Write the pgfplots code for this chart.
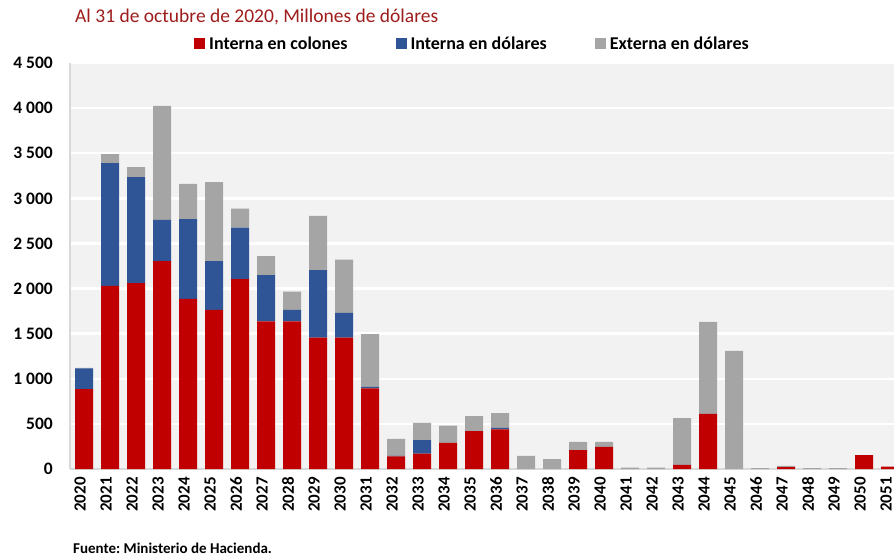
\documentclass[border=0pt]{standalone}
\usepackage{pgfplots}
\usepackage{pgfplotstable}
\pgfplotsset{compat=1.18}
\usepackage{fontspec}
\setmainfont{Carlito}
\frenchspacing
\definecolor{cred}{HTML}{C00000}
\definecolor{cblue}{HTML}{2F5597}
\definecolor{cgray}{HTML}{A5A5A5}
\definecolor{bgc}{HTML}{F2F2F2}
\definecolor{linec}{HTML}{D9D9D9}
\definecolor{titlec}{HTML}{9E1C1C}
\pgfplotstableread{
i r b g
0 885 230 5
1 2030 1360 100
2 2060 1175 110
3 2305 455 1265
4 1885 885 390
5 1765 540 875
6 2105 570 210
7 1635 515 210
8 1635 130 200
9 1455 750 600
10 1455 275 590
11 895 15 585
12 140 5 190
13 170 150 190
14 290 0 190
15 420 0 165
16 440 15 165
17 0 0 145
18 0 0 110
19 210 0 90
20 245 0 55
21 0 0 15
22 0 0 15
23 45 0 520
24 610 0 1020
25 0 0 1310
26 0 0 10
27 20 0 15
28 0 0 10
29 0 0 10
30 155 0 0
31 25 0 0
}\data
\begin{document}
\begin{tikzpicture}
\useasboundingbox (0,0) rectangle (894pt,558pt);
\begin{axis}[
 at={(70pt,89pt)}, anchor=south west,
 scale only axis, width=824pt, height=406pt,
 xmin=-0.54, xmax=31.15, ymin=0, ymax=4500,
 ybar stacked, bar width=18pt,
 axis background/.style={fill=bgc},
 axis lines*=left,
 axis line style={linec, line width=1.2pt, -},
 ymajorgrids, grid style={white, line width=2.5pt},
 major tick length=0pt,
 xtick={0,...,31},
 xticklabels={2020,2021,2022,2023,2024,2025,2026,2027,2028,2029,2030,2031,2032,2033,2034,2035,2036,2037,2038,2039,2040,2041,2042,2043,2044,2045,2046,2047,2048,2049,2050,2051},
 xticklabel style={rotate=90, anchor=east, inner sep=0pt, xshift=-8pt, yshift=4pt, font=\bfseries\fontsize{17}{17}\selectfont},
 ytick={0,500,...,4500},
 yticklabels={0,500,1 000,1 500,2 000,2 500,3 000,3 500,4 000,4 500},
 yticklabel style={anchor=east, inner sep=0pt, xshift=-17pt, font=\bfseries\fontsize{17.5}{17.5}\selectfont},
 legend columns=3,
 legend style={at={(0.1505,1.047)}, anchor=west, draw=none, fill=none, inner sep=0pt,
   nodes={inner sep=0pt, font=\bfseries\fontsize{18}{18}\selectfont},
   /tikz/every odd column/.append style={column sep=4pt},
   /tikz/every even column/.append style={column sep=48pt}},
 legend image code/.code={\fill (0pt,-5.5pt) rectangle (11pt,5.5pt);},
]
\addplot[fill=cred, draw=none] table[x=i,y=r] {\data};
\addlegendentry{Interna en colones}
\addplot[fill=cblue, draw=none] table[x=i,y=b] {\data};
\addlegendentry{Interna en dólares}
\addplot[fill=cgray, draw=none] table[x=i,y=g] {\data};
\addlegendentry{Externa en dólares}
\end{axis}
\node[anchor=base west, inner sep=0pt, text=titlec, font=\fontsize{19.5}{20}\selectfont] at (75pt,535pt) {Al 31 de octubre de 2020, Millones de dólares};
\node[anchor=base west, inner sep=0pt, font=\bfseries\fontsize{15}{15}\selectfont] at (73pt,5pt) {Fuente: Ministerio de Hacienda.};
\end{tikzpicture}
\end{document}
